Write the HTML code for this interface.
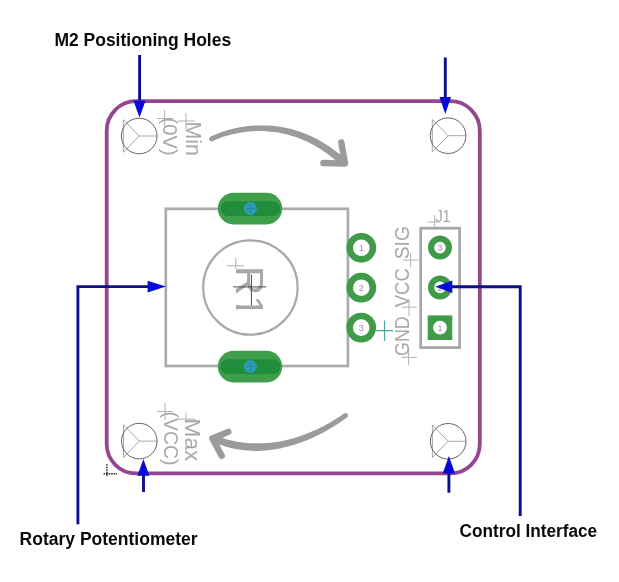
<!DOCTYPE html>
<html lang="en">
<head>
<meta charset="utf-8">
<title>Rotary Potentiometer Module</title>
<style>
  html, body { margin: 0; padding: 0; background: #ffffff; }
  body { width: 619px; height: 582px; overflow: hidden; }
  svg { display: block; filter: blur(0.45px); }
  .lbl { font-family: "Liberation Sans", sans-serif; font-weight: bold; font-size: 17.5px; fill: #0a0a0a; }
  .vec { font-family: "Liberation Sans", sans-serif; fill: #a8a8a8; }
  .num { font-family: "Liberation Sans", sans-serif; font-size: 9px; fill: #9d93a3; text-anchor: middle; }
  .gx { stroke: #b0b0b0; stroke-width: 1; fill: none; }
</style>
</head>
<body>
<svg width="619" height="582" viewBox="0 0 619 582">
  <rect x="0" y="0" width="619" height="582" fill="#ffffff"/>

  <!-- board outline -->
  <path d="M136.1,101.2 H450.4 A29.4,29.4 0 0 1 479.8,130.6 V444 A29.4,29.4 0 0 1 450.4,473.4 H136.1 A29.4,29.4 0 0 1 106.7,444 V130.6 A29.4,29.4 0 0 1 136.1,101.2 Z"
        fill="none" stroke="#92478f" stroke-width="3.8"/>

  <!-- origin cross bottom-left -->
  <g stroke="#2a2a2a" stroke-width="1.5" stroke-dasharray="1.6 0.9">
    <line x1="103.6" y1="473.8" x2="117" y2="473.8"/>
    <line x1="106.9" y1="464.2" x2="106.9" y2="477"/>
  </g>

  <!-- mounting holes -->
  <g id="holes" fill="none">
    <g transform="translate(139.2,136)">
      <path d="M-15.8,-16.3 V16.3 L0,0 Z M0,0 H17.8" stroke="#a6a6a6" stroke-width="1"/>
      <circle r="17.8" stroke="#6a5e6a" stroke-width="1"/>
    </g>
    <g transform="translate(448.1,135.7)">
      <path d="M-15.8,-16.3 V16.3 L0,0 Z M0,0 H17.8" stroke="#a6a6a6" stroke-width="1"/>
      <circle r="17.8" stroke="#6a5e6a" stroke-width="1"/>
    </g>
    <g transform="translate(139.3,441.1)">
      <path d="M-15.8,-16.3 V16.3 L0,0 Z M0,0 H17.8" stroke="#a6a6a6" stroke-width="1"/>
      <circle r="17.8" stroke="#6a5e6a" stroke-width="1"/>
    </g>
    <g transform="translate(448.2,441.3)">
      <path d="M-15.8,-16.3 V16.3 L0,0 Z M0,0 H17.8" stroke="#a6a6a6" stroke-width="1"/>
      <circle r="17.8" stroke="#6a5e6a" stroke-width="1"/>
    </g>
  </g>

  <!-- silk arcs with arrow heads -->
  <g fill="#9b9b9b" stroke="none">
    <path d="M212.6,141.2 L214.7,140.2 L216.8,139.3 L219.0,138.4 L221.2,137.6 L223.4,136.8 L225.7,136.1 L228.0,135.4 L230.3,134.8 L232.6,134.2 L234.9,133.7 L237.3,133.2 L239.7,132.8 L242.1,132.4 L244.4,132.0 L246.8,131.8 L249.3,131.5 L251.7,131.3 L254.1,131.2 L256.5,131.1 L258.9,131.1 L261.3,131.1 L263.7,131.2 L266.1,131.3 L268.5,131.4 L270.9,131.7 L273.3,131.9 L275.7,132.2 L278.0,132.6 L280.4,133.0 L282.7,133.5 L285.0,134.0 L287.3,134.6 L289.6,135.2 L291.9,135.9 L294.2,136.6 L296.4,137.3 L298.6,138.1 L300.8,139.0 L303.0,139.9 L305.2,140.8 L307.3,141.8 L309.4,142.8 L311.5,143.9 L313.6,145.0 L315.7,146.2 L317.7,147.4 L319.8,148.6 L321.8,149.9 L323.7,151.2 L325.7,152.6 L327.6,154.0 L329.5,155.4 L331.4,156.9 L333.3,158.4 L335.2,159.9 L337.0,161.5 L338.8,163.1 L340.6,164.8 L342.4,166.4 L347.5,161.0 L345.6,159.2 L343.7,157.6 L341.8,155.9 L339.8,154.3 L337.8,152.7 L335.8,151.2 L333.8,149.7 L331.8,148.2 L329.7,146.8 L327.6,145.4 L325.5,144.0 L323.4,142.7 L321.2,141.4 L319.0,140.2 L316.8,139.0 L314.6,137.9 L312.4,136.8 L310.1,135.8 L307.8,134.8 L305.5,133.8 L303.2,132.9 L300.8,132.1 L298.5,131.2 L296.1,130.5 L293.7,129.8 L291.3,129.1 L288.8,128.5 L286.4,128.0 L283.9,127.5 L281.4,127.0 L279.0,126.6 L276.5,126.3 L274.0,126.0 L271.5,125.8 L268.9,125.6 L266.4,125.5 L263.9,125.4 L261.4,125.4 L258.8,125.4 L256.3,125.5 L253.8,125.6 L251.2,125.8 L248.7,126.0 L246.2,126.3 L243.7,126.7 L241.2,127.1 L238.7,127.5 L236.2,128.0 L233.8,128.6 L231.3,129.2 L228.9,129.8 L226.5,130.5 L224.1,131.3 L221.8,132.1 L219.5,132.9 L217.2,133.8 L214.9,134.8 L212.7,135.8 L210.5,136.8 Z"/>
    <circle cx="211.5" cy="139" r="2.4"/>
    <path d="M344.2,413.5 L342.3,414.8 L340.4,416.1 L338.4,417.4 L336.5,418.6 L334.5,419.8 L332.5,421.1 L330.4,422.2 L328.4,423.4 L326.3,424.5 L324.2,425.7 L322.1,426.8 L320.0,427.8 L317.8,428.9 L315.7,429.9 L313.5,430.8 L311.3,431.8 L309.1,432.7 L306.9,433.6 L304.7,434.4 L302.5,435.3 L300.3,436.0 L298.0,436.8 L295.8,437.5 L293.5,438.2 L291.2,438.8 L288.9,439.4 L286.7,439.9 L284.4,440.5 L282.1,440.9 L279.8,441.4 L277.5,441.8 L275.2,442.1 L272.9,442.4 L270.6,442.7 L268.3,442.9 L265.9,443.1 L263.6,443.2 L261.3,443.3 L259.0,443.3 L256.7,443.3 L254.4,443.3 L252.1,443.3 L249.8,443.2 L247.5,443.0 L245.3,442.8 L243.0,442.6 L240.7,442.3 L238.4,441.9 L236.1,441.5 L233.9,441.1 L231.6,440.6 L229.3,440.1 L227.1,439.5 L224.8,438.8 L222.6,438.1 L220.4,437.4 L218.1,436.6 L215.9,435.7 L213.7,434.8 L210.9,441.2 L213.3,442.2 L215.6,443.1 L218.0,444.0 L220.3,444.9 L222.7,445.6 L225.1,446.4 L227.5,447.0 L229.9,447.7 L232.3,448.2 L234.7,448.7 L237.2,449.2 L239.6,449.6 L242.0,449.9 L244.5,450.2 L246.9,450.5 L249.4,450.6 L251.8,450.8 L254.3,450.9 L256.7,450.9 L259.2,450.9 L261.6,450.8 L264.1,450.6 L266.5,450.4 L269.0,450.1 L271.4,449.8 L273.9,449.5 L276.3,449.1 L278.7,448.7 L281.1,448.2 L283.5,447.6 L285.9,447.1 L288.3,446.5 L290.7,445.8 L293.0,445.1 L295.4,444.4 L297.7,443.6 L300.1,442.8 L302.4,442.0 L304.7,441.1 L307.0,440.2 L309.2,439.2 L311.5,438.2 L313.8,437.2 L316.0,436.2 L318.2,435.1 L320.4,434.0 L322.6,432.9 L324.7,431.7 L326.9,430.5 L329.0,429.3 L331.1,428.1 L333.1,426.8 L335.2,425.5 L337.2,424.2 L339.2,422.9 L341.2,421.5 L343.2,420.2 L345.1,418.8 L347.0,417.4 Z"/>
    <circle cx="345.6" cy="415.5" r="2.4"/>
  </g>
  <g fill="none" stroke="#9b9b9b" stroke-width="6.4" stroke-linecap="round" stroke-linejoin="round">
    <path d="M341.3,142.3 L345,163.6 L323.4,163"/>
    <path d="M228.3,431.9 L212.4,438.5 L221.7,455.8"/>
  </g>

  <!-- potentiometer body -->
  <rect x="165.8" y="208.8" width="182.1" height="157.2" fill="none" stroke="#ababab" stroke-width="2.7"/>
  <circle cx="250.4" cy="287.5" r="47.2" fill="none" stroke="#a8a8a8" stroke-width="2.2"/>

  <!-- R1 -->
  <g class="gx">
    <line x1="227" y1="265.8" x2="244" y2="265.8"/>
    <line x1="235.8" y1="258" x2="235.8" y2="269"/>
  </g>
  <text class="vec" transform="translate(235.7,265.9) rotate(90) scale(1.07,1.03)" font-size="38">R1</text>
  <rect x="233.5" y="297.6" width="6.8" height="7.3" fill="#ffffff"/>
  <rect x="233.5" y="309.2" width="6.8" height="7" fill="#ffffff"/>
  <g stroke="#4a4a4a" stroke-width="1">
    <line x1="233.3" y1="286.9" x2="266.3" y2="286.9"/>
    <line x1="251.4" y1="274.5" x2="251.4" y2="305.4"/>
  </g>

  <!-- slot pads -->
  <g>
    <rect x="217.8" y="192.8" width="64.4" height="31.6" rx="15.8" fill="#3f9e49"/>
    <rect x="220.4" y="201.3" width="60" height="14.6" rx="7.3" fill="#1f8d3b"/>
    <circle cx="250.4" cy="208.5" r="6.5" fill="#2f9bb3"/>
    <path d="M246,208.5 H255 M250.4,204 V213" stroke="#2589a8" stroke-width="1"/>
    <rect x="217.8" y="350.8" width="64.4" height="31.6" rx="15.8" fill="#3f9e49"/>
    <rect x="220.4" y="359.3" width="60" height="14.6" rx="7.3" fill="#1f8d3b"/>
    <circle cx="250.4" cy="366.5" r="6.5" fill="#2f9bb3"/>
    <path d="M246,366.5 H255 M250.4,362 V371" stroke="#2589a8" stroke-width="1"/>
  </g>

  <!-- round pads 1 2 3 -->
  <g fill="#ffffff" stroke="#3f9b47" stroke-width="6.6">
    <circle cx="361.3" cy="247.8" r="11.6"/>
    <circle cx="361.3" cy="287.7" r="11.6"/>
    <circle cx="361.2" cy="327.6" r="11.6"/>
  </g>
  <text class="num" x="361.3" y="251">1</text>
  <text class="num" x="361.3" y="290.9">2</text>
  <text class="num" x="361.2" y="330.8">3</text>

  <!-- teal cross -->
  <path d="M376,330.7 H393 M384.5,320.5 V341" stroke="#4aa3a3" stroke-width="1.2" fill="none"/>

  <!-- rotated silk labels -->
  <g class="gx">
    <path d="M403,260.1 H418.2 M410.6,252.6 V267.2"/>
    <path d="M401.7,307.1 H416.8 M409,298.9 V316.1"/>
    <path d="M401.7,357.4 H416.8 M408.6,348.4 V364.9"/>
    <path d="M427.6,222 H439.5 M434.7,215 V228"/>
    <path d="M178,121 H195 M186,113 V129"/>
    <path d="M157,118.5 H173 M164.6,110 V127"/>
    <path d="M178.2,419.2 H195.7 M186,412.6 V422.8"/>
    <path d="M157,411.6 H173 M165.1,403 V420"/>
  </g>
  <text class="vec" transform="translate(408.9,259.3) rotate(-90)" font-size="20" textLength="33.2" lengthAdjust="spacingAndGlyphs">SIG</text>
  <text class="vec" transform="translate(408.9,307.3) rotate(-90)" font-size="20" textLength="39.2" lengthAdjust="spacingAndGlyphs">VCC</text>
  <text class="vec" transform="translate(408.9,356) rotate(-90)" font-size="20" textLength="39.8" lengthAdjust="spacingAndGlyphs">GND</text>
  <text class="vec" x="435.4" y="222" font-size="16.3" textLength="15.2" lengthAdjust="spacingAndGlyphs">J1</text>

  <text class="vec" transform="translate(185.8,121.5) rotate(90)" font-size="22" textLength="34.5" lengthAdjust="spacingAndGlyphs">Min</text>
  <text class="vec" transform="translate(163.2,117.6) rotate(90)" font-size="21" textLength="38" lengthAdjust="spacingAndGlyphs">(0V)</text>
  <text class="vec" transform="translate(185.4,418.6) rotate(90)" font-size="22" textLength="42.6" lengthAdjust="spacingAndGlyphs">Max</text>
  <text class="vec" transform="translate(163.7,411.6) rotate(90)" font-size="21" textLength="53.8" lengthAdjust="spacingAndGlyphs">(VCC)</text>

  <!-- J1 header -->
  <rect x="420.7" y="228.2" width="38.9" height="119.4" fill="none" stroke="#a6a6a6" stroke-width="2.7"/>
  <g fill="#ffffff" stroke="#3f9b47" stroke-width="6.2">
    <circle cx="440" cy="247.6" r="8.9"/>
    <circle cx="440" cy="287.4" r="8.9"/>
  </g>
  <rect x="427.7" y="315.4" width="24.6" height="24.6" fill="#3f9b47"/>
  <circle cx="440" cy="327.6" r="6.9" fill="#ffffff"/>
  <text class="num" x="440" y="250.9">3</text>
  <text class="num" x="440" y="290.7">2</text>
  <text class="num" x="440" y="330.9">1</text>

  <!-- blue callout arrows -->
  <g stroke="#0d0d90" stroke-width="2.9" fill="none">
    <line x1="139.6" y1="55" x2="139.6" y2="100"/>
    <line x1="445.3" y1="57.5" x2="445.3" y2="99"/>
    <line x1="143.5" y1="492" x2="143.5" y2="474"/>
    <line x1="448.9" y1="492.7" x2="448.9" y2="472"/>
    <path d="M77.9,524.2 V286.6 H150"/>
    <path d="M520.2,516 V286.8 H449"/>
  </g>
  <g fill="#0808d8">
    <path d="M133.4,100.4 H145.6 L139.5,117.6 Z"/>
    <path d="M439.5,97 H451.1 L445.3,114 Z"/>
    <path d="M137.4,475.8 H149.4 L143.4,459.1 Z"/>
    <path d="M442.7,473.6 H455.1 L448.9,456 Z"/>
    <path d="M147.6,280.8 V292.6 L165.8,286.6 Z"/>
    <path d="M452.3,280.4 V293 L435.3,286.8 Z"/>
  </g>

  <!-- captions -->
  <text class="lbl" x="54.4" y="45.9" textLength="176.8" lengthAdjust="spacingAndGlyphs">M2 Positioning Holes</text>
  <text class="lbl" x="19.6" y="544.7" textLength="178" lengthAdjust="spacingAndGlyphs">Rotary Potentiometer</text>
  <text class="lbl" x="459.6" y="537.4" textLength="137.6" lengthAdjust="spacingAndGlyphs">Control Interface</text>
</svg>
</body>
</html>
